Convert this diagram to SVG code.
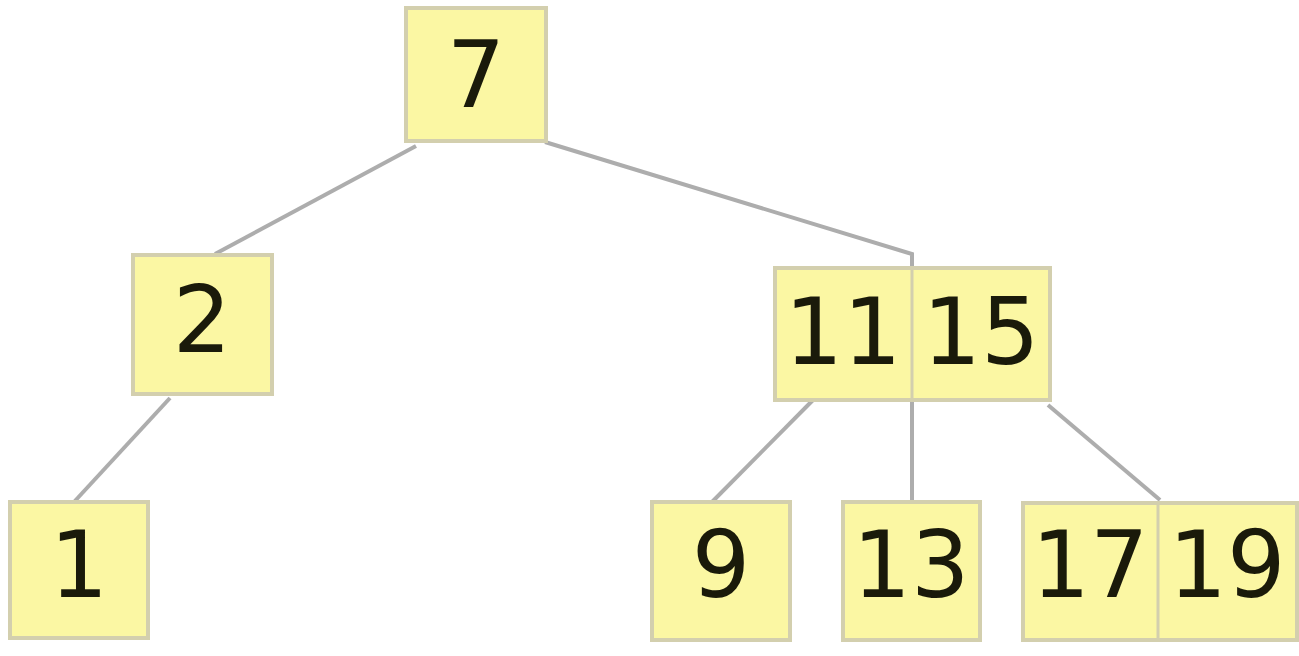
<svg xmlns="http://www.w3.org/2000/svg" width="1299" height="656" viewBox="0 0 1299 656">
<style>
.box{fill:#fbf7a3;stroke:#d3cfae;stroke-width:4}
.div{stroke:#d3cfae;stroke-width:3}
.t{font-family:"DejaVu Sans",sans-serif;font-size:92px;fill:#1a1a0a;text-anchor:middle}
.e{stroke:#adadad;stroke-width:4;fill:none}
</style>
<rect width="1299" height="656" fill="#ffffff"/>
<g id="edges">
<line class="e" x1="416" y1="146" x2="215" y2="254"/>
<polyline class="e" points="545,142 912,254 912,502"/>
<line class="e" x1="170" y1="398" x2="74" y2="502"/>
<line class="e" x1="815" y1="398" x2="712" y2="502"/>
<line class="e" x1="1048" y1="405" x2="1160" y2="500"/>
</g>
<g id="n7"><rect class="box" x="406" y="8" width="140" height="133"/><text class="t" x="476" y="107">7</text></g>
<g id="n2"><rect class="box" x="133" y="255" width="139" height="139"/><text class="t" x="202" y="352">2</text></g>
<g id="n1"><rect class="box" x="10" y="502" width="138" height="136"/><text class="t" x="79" y="597">1</text></g>
<g id="n11_15"><rect class="box" x="775" y="268" width="275" height="132"/><line class="div" x1="912" y1="268" x2="912" y2="400"/><text class="t" x="843" y="364">11</text><text class="t" x="981" y="364">15</text></g>
<g id="n9"><rect class="box" x="652" y="502" width="138" height="138"/><text class="t" x="721" y="597">9</text></g>
<g id="n13"><rect class="box" x="843" y="502" width="137" height="138"/><text class="t" x="911" y="597">13</text></g>
<g id="n17_19"><rect class="box" x="1023" y="503" width="274" height="137"/><line class="div" x1="1158" y1="503" x2="1158" y2="640"/><text class="t" x="1090" y="597">17</text><text class="t" x="1227" y="597">19</text></g>
</svg>
